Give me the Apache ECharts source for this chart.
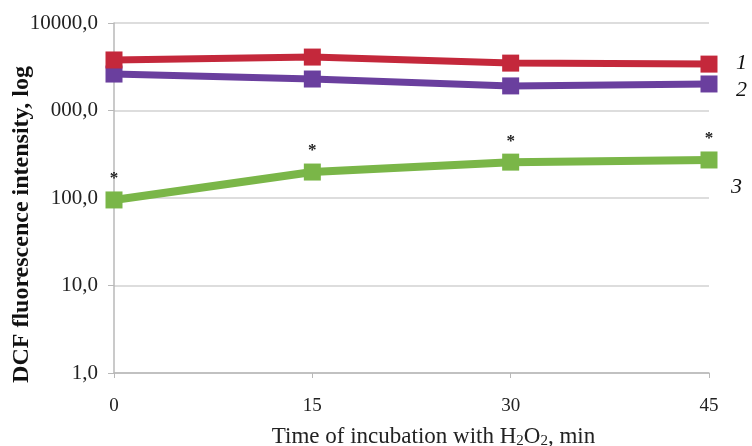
<!DOCTYPE html>
<html>
<head>
<meta charset="utf-8">
<script src="https://cdn.jsdelivr.net/npm/echarts@6/dist/echarts.min.js"></script>
<style>
html,body{margin:0;padding:0;background:#fff;}
#chart{width:752px;height:446px;}
</style>
</head>
<body>
<div id="chart"></div>
<script>
const categories = ['0', '15', '30', '45'];
const series1 = [3780, 4080, 3480, 3390];
const series2 = [2610, 2290, 1910, 2010];
const series3 = [95, 198, 257, 272];
const seriesLabels = ['1', '2', '3'];
const yTicks = [1, 10, 100, 1000, 10000];

const chart = echarts.init(document.getElementById('chart'));
const serif = '"Liberation Serif", "DejaVu Serif", serif';
function endLbl(txt, off) {
  return {
    show: true, formatter: txt, distance: 22, offset: off,
    fontFamily: serif, fontStyle: 'italic', fontSize: 22, color: '#111'
  };
}
function yFmt(v) {
  const r = Math.round(v);
  if (!yTicks.includes(r)) return '';
  const s = v.toFixed(1).replace('.', ',');
  // in the reference the leading "1" of 1000,0 is hidden behind the axis title
  if (r === 1000) return '{h|' + s.charAt(0) + '}' + s.slice(1);
  return s;
}
chart.setOption({
  animation: false,
  grid: {left: 114, right: 43, top: 23, bottom: 73, containLabel: false, outerBoundsMode: 'none'},
  xAxis: {
    type: 'category', data: categories, boundaryGap: false,
    axisLine: {lineStyle: {color: '#b8b8b8', width: 1.5}},
    axisTick: {show: true, length: 5, lineStyle: {color: '#b8b8b8'}},
    axisLabel: {fontFamily: serif, fontSize: 19, color: '#222', margin: 24},
    name: '{n|Time of incubation with H}{s|2}{n|O}{s|2}{n|, min}',
    nameLocation: 'middle', nameGap: 52, nameMoveOverlap: false,
    nameTextStyle: {
      padding: [0, 0, 0, 44],
      rich: {
        n: {fontFamily: serif, fontSize: 23, color: '#222'},
        s: {fontFamily: serif, fontSize: 15, color: '#222', verticalAlign: 'bottom', padding: [9, 0, 0, 0]}
      }
    }
  },
  yAxis: {
    type: 'log', logBase: 10, min: 1, max: 10000,
    axisLine: {show: true, lineStyle: {color: '#b8b8b8', width: 1.5}},
    axisTick: {show: true, length: 6, lineStyle: {color: '#b8b8b8'}},
    splitLine: {lineStyle: {color: '#d2d2d2', width: 1.5}},
    minorTick: {show: false},
    axisLabel: {
      fontFamily: serif, fontSize: 21, color: '#222', margin: 16,
      formatter: yFmt,
      rich: {h: {fontFamily: serif, fontSize: 21, color: '#ffffff'}}
    },
    name: 'DCF fluorescence intensity, log',
    nameLocation: 'middle', nameGap: 80, nameRotate: 90, nameMoveOverlap: false,
    nameTextStyle: {
      fontFamily: serif, fontSize: 24, fontWeight: 'bold', color: '#111',
      padding: [0, 53, 0, 0]
    }
  },
  series: [
    {
      name: '3', type: 'line', data: series3, color: '#7ab648',
      symbol: 'rect', symbolSize: 17, lineStyle: {width: 8, color: '#7ab648'},
      itemStyle: {color: '#7ab648'},
      label: {show: true, position: 'top', formatter: '*', distance: 4, fontSize: 17, fontWeight: 'bold', fontFamily: serif, color: '#222'},
      endLabel: endLbl(seriesLabels[2], [0, 27])
    },
    {
      name: '2', type: 'line', data: series2, color: '#6a3f9e',
      symbol: 'rect', symbolSize: 17, lineStyle: {width: 7, color: '#6a3f9e'},
      itemStyle: {color: '#6a3f9e'},
      endLabel: endLbl(seriesLabels[1], [5, 6])
    },
    {
      name: '1', type: 'line', data: series1, color: '#c4283b',
      symbol: 'rect', symbolSize: 17, lineStyle: {width: 7, color: '#c4283b'},
      itemStyle: {color: '#c4283b'},
      endLabel: endLbl(seriesLabels[0], [5, -1])
    }
  ]
});
</script>
</body>
</html>
